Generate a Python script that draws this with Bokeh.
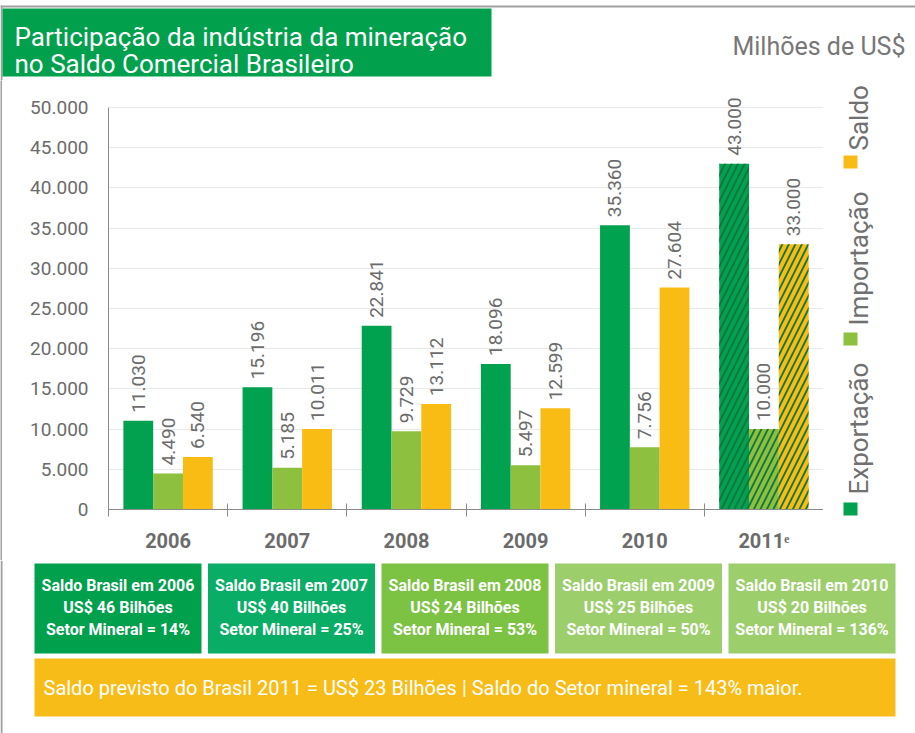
from math import pi
from bokeh.plotting import figure
from bokeh.layouts import column, row
from bokeh.models import ColumnDataSource, FixedTicker, LabelSet, Label, BoxAnnotation, Range1d
from bokeh.core.properties import value
from bokeh.embed import file_html
from bokeh.resources import INLINE

# ---------------- data ----------------
years = ["2006", "2007", "2008", "2009", "2010", "2011ᵉ"]
exportacao = [11030, 15196, 22841, 18096, 35360, 43000]
importacao = [4490, 5185, 9729, 5497, 7756, 10000]
saldo = [6540, 10011, 13112, 12599, 27604, 33000]
estimado = [False, False, False, False, False, True]

y_ticks = [0, 5000, 10000, 15000, 20000, 25000, 30000, 35000, 40000, 45000, 50000]
y_tick_labels = ["0", "5.000", "10.000", "15.000", "20.000", "25.000",
                 "30.000", "35.000", "40.000", "45.000", "50.000"]

box_years = ["2006", "2007", "2008", "2009", "2010"]
box_saldo_bilhoes = [46, 40, 24, 25, 20]
box_setor_pct = [14, 25, 53, 50, 136]

title_lines = ["Participação da indústria da mineração", "no Saldo Comercial Brasileiro"]
unit_text = "Milhões de US$"
previsto_texto = "Saldo previsto do Brasil 2011 = US$ 23 Bilhões | Saldo do Setor mineral = 143% maior."
series_names = ["Exportação", "Importação", "Saldo"]

# ---------------- styles ----------------
C_EXP = "#00A14F"
C_IMP = "#8DC03F"
C_SAL = "#F9BC15"
C_HATCH = "#12743E"
BOX_COLORS = ["#00A04D", "#0AAD66", "#7CC243", "#9CCE6C", "#9CCE6C"]
C_YELLOW = "#F8BC18"
C_TITLE = "#00A04D"
C_LINE = "#a0a0a0"
GRAY = "#6b6b6b"
FONT = "Roboto"

W, H = 915, 733
TOP_H = 80          # header strip
MAIN_B = 560        # bottom of chart strip
FL, FR, FT, FB = 108, 823, 107, 509   # chart frame (page pixels)
XMAX, YMAX = 6, 50000
STRIP = 2


def fmt(v):
    return f"{v:,}".replace(",", ".")


def no_align(f):
    if "frame_align" in f.properties():
        f.frame_align = False


def px_fig(x0, x1, y0, y1):
    f = figure(width=x1 - x0, height=y1 - y0, output_backend="svg", toolbar_location=None,
               x_range=Range1d(x0, x1), y_range=Range1d(y1, y0),
               x_axis_location=None, y_axis_location=None,
               min_border=0, min_border_left=0, min_border_right=0,
               min_border_top=0, min_border_bottom=0,
               background_fill_color="white", border_fill_color="white")
    f.outline_line_color = None
    f.xgrid.visible = False
    f.ygrid.visible = False
    no_align(f)
    return f


def box(f, l, r, t, b, col):
    f.add_layout(BoxAnnotation(left=l, right=r, top=t, bottom=b, fill_color=col,
                               fill_alpha=1, line_color=None, level="underlay"))


# ---------------- header ----------------
top = px_fig(0, W, 0, TOP_H)
box(top, 0, W, 5, 7, C_LINE)
box(top, 0, STRIP, 5, TOP_H, C_LINE)
box(top, STRIP, 491, 8, 76, C_TITLE)
for j, t in enumerate(title_lines):
    top.add_layout(Label(x=14, y=36 + 27 * j, text=t, text_font=FONT, text_font_size="26px",
                         text_color="white", text_baseline="alphabetic"))
top.add_layout(Label(x=905, y=46, text=unit_text, text_align="right", text_font=FONT,
                     text_font_size="25px", text_color="#777777", text_baseline="alphabetic"))

# ---------------- main chart ----------------
n = len(years)
xc = [i + 0.5 for i in range(n)]
bw = 0.25
src = ColumnDataSource(dict(
    x_exp=[x - bw for x in xc],
    x_imp=xc,
    x_sal=[x + bw for x in xc],
    exportacao=exportacao,
    importacao=importacao,
    saldo=saldo,
    t_exp=[fmt(v) for v in exportacao],
    t_imp=[fmt(v) for v in importacao],
    t_sal=[fmt(v) for v in saldo],
    hatch=["/" if e else " " for e in estimado],
))

y_end = YMAX * (FB - TOP_H) / (FB - FT)
p = figure(width=FR - STRIP, height=MAIN_B - TOP_H, output_backend="svg", toolbar_location=None,
           x_range=Range1d(0, XMAX), y_range=Range1d(0, y_end),
           min_border_left=FL - STRIP, min_border_right=0,
           min_border_top=0, min_border_bottom=MAIN_B - FB,
           background_fill_color="white", border_fill_color="white")
p.outline_line_color = None
no_align(p)

p.xaxis.ticker = FixedTicker(ticks=xc, minor_ticks=list(range(n + 1)))
p.xaxis.major_label_overrides = {x: y for x, y in zip(xc, years)}
p.xaxis.bounds = (0, XMAX)
p.xaxis.major_tick_line_color = None
p.xaxis.major_tick_out = 0
p.xaxis.major_tick_in = 0
p.xaxis.minor_tick_line_color = "#8a8a8a"
p.xaxis.minor_tick_in = 6
p.xaxis.minor_tick_out = 7
p.xaxis.axis_line_color = "#8a8a8a"
p.xaxis.major_label_text_font = FONT
p.xaxis.major_label_text_font_style = "bold"
p.xaxis.major_label_text_font_size = "20px"
p.xaxis.major_label_text_color = GRAY
p.xaxis.major_label_standoff = 12

p.yaxis.ticker = FixedTicker(ticks=y_ticks)
p.yaxis.major_label_overrides = {t: l for t, l in zip(y_ticks, y_tick_labels)}
p.yaxis.bounds = (0, YMAX)
p.yaxis.major_tick_line_color = None
p.yaxis.major_tick_out = 0
p.yaxis.major_tick_in = 0
p.yaxis.minor_tick_line_color = None
p.yaxis.axis_line_color = "#8a8a8a"
p.yaxis.major_label_text_font = FONT
p.yaxis.major_label_text_font_size = "19px"
p.yaxis.major_label_text_color = GRAY
p.yaxis.major_label_standoff = 20

p.xgrid.grid_line_color = None
p.ygrid.grid_line_color = "#e9e9e9"

for xf, yf, col in [("x_exp", "exportacao", C_EXP), ("x_imp", "importacao", C_IMP), ("x_sal", "saldo", C_SAL)]:
    p.vbar(x=xf, top=yf, width=bw, source=src, fill_color=col, line_color=None,
           hatch_pattern="hatch", hatch_color=C_HATCH, hatch_weight=1.8, hatch_scale=13)

for xf, yf, tf in [("x_exp", "exportacao", "t_exp"), ("x_imp", "importacao", "t_imp"), ("x_sal", "saldo", "t_sal")]:
    p.add_layout(LabelSet(x=xf, y=yf, text=tf, source=src, angle=pi / 2,
                          text_align="left", text_baseline="middle", y_offset=8,
                          text_font=value(FONT), text_font_size="19px", text_color=GRAY))

strip = figure(width=STRIP, height=MAIN_B - TOP_H, output_backend="svg", toolbar_location=None,
               x_axis_location=None, y_axis_location=None, min_border=0,
               min_border_left=0, min_border_right=0, min_border_top=0, min_border_bottom=0,
               background_fill_color=C_LINE, border_fill_color=C_LINE)
strip.outline_line_color = None
strip.xgrid.visible = False
strip.ygrid.visible = False
no_align(strip)

# ---------------- legend (rotated) ----------------
leg = px_fig(FR, W, TOP_H, MAIN_B)
leg_colors = [C_EXP, C_IMP, C_SAL]
leg_sq = [(502, 515), (332, 345), (155, 168)]
leg_txt_y = [494, 325, 150]
for name, col, (st, sb), ty in zip(series_names, leg_colors, leg_sq, leg_txt_y):
    box(leg, 843, 857, st, sb, col)
    leg.add_layout(Label(x=858, y=ty, text=name, angle=pi / 2,
                         text_align="left", text_baseline="alphabetic",
                         text_font=FONT, text_font_size="26px", text_color="#707070"))

# ---------------- bottom boxes ----------------
bot = px_fig(0, W, MAIN_B, H)
box(bot, 0, STRIP, MAIN_B, H, C_LINE)
bl, br, gap = 34, 895, 6.5
bwid = (br - bl - gap * (len(box_years) - 1)) / len(box_years)
for i, (yr, sb, pc) in enumerate(zip(box_years, box_saldo_bilhoes, box_setor_pct)):
    left = bl + i * (bwid + gap)
    box(bot, left, left + bwid, 563, 653, BOX_COLORS[i])
    lines = [f"Saldo Brasil em {yr}", f"US$ {sb} Bilhões", f"Setor Mineral = {pc}%"]
    for j, t in enumerate(lines):
        bot.add_layout(Label(x=left + bwid / 2, y=585 + 22 * j, text=t,
                             text_align="center", text_baseline="middle",
                             text_font=FONT, text_font_size="16px", text_font_style="bold",
                             text_color="white"))
box(bot, 34, 895, 658, 716, C_YELLOW)
bot.add_layout(Label(x=43, y=687, text=previsto_texto, text_baseline="middle",
                     text_font=FONT, text_font_size="20px", text_color="white"))

layout = column(top, row(strip, p, leg), bot)
open("out.html", "w").write(file_html(layout, INLINE))
